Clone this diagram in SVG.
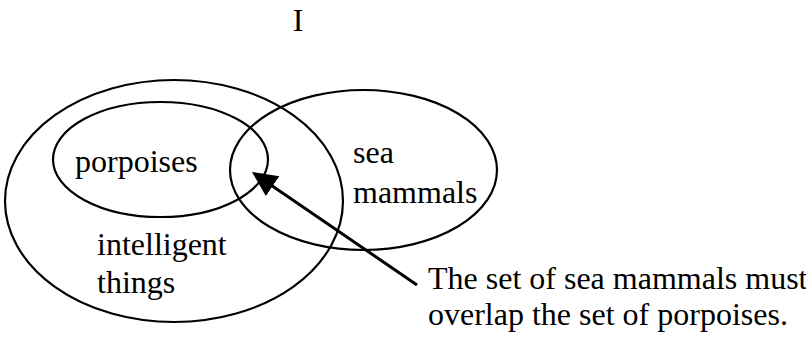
<svg xmlns="http://www.w3.org/2000/svg" width="806" height="337" viewBox="0 0 806 337">
<style>
.set{fill:none;stroke:#000;stroke-width:2.2}
.lbl{font-family:"Liberation Serif","Times New Roman",serif;font-size:32px;fill:#000}
.conn{stroke:#000;stroke-width:3;fill:none}
</style>
<defs>
<marker id="ah" markerUnits="userSpaceOnUse" markerWidth="26" markerHeight="26" refX="15" refY="12" orient="auto" viewBox="0 0 26 24">
<path d="M0,0 L25,12 L0,24 z" fill="#000"/>
</marker>
</defs>
<rect width="806" height="337" fill="#fff"/>
<text class="lbl" x="298" y="31" text-anchor="middle">I</text>
<g id="intelligent-things">
<ellipse class="set" cx="174" cy="201" rx="169" ry="121"/>
<text class="lbl" x="97" y="255">intelligent</text>
<text class="lbl" x="97" y="293">things</text>
</g>
<g id="porpoises">
<ellipse class="set" cx="160.5" cy="159.5" rx="107.5" ry="57.5"/>
<text class="lbl" x="75" y="172">porpoises</text>
</g>
<g id="sea-mammals">
<ellipse class="set" cx="363.5" cy="170" rx="133.5" ry="80"/>
<text class="lbl" x="353" y="163">sea</text>
<text class="lbl" x="353" y="203">mammals</text>
</g>
<g id="note">
<text class="lbl" x="428" y="289">The set of sea mammals must</text>
<text class="lbl" x="428" y="325">overlap the set of porpoises.</text>
</g>
<g id="connectors">
<line class="conn" x1="417" y1="285" x2="260.25" y2="177.65" marker-end="url(#ah)"/>
</g>
</svg>
